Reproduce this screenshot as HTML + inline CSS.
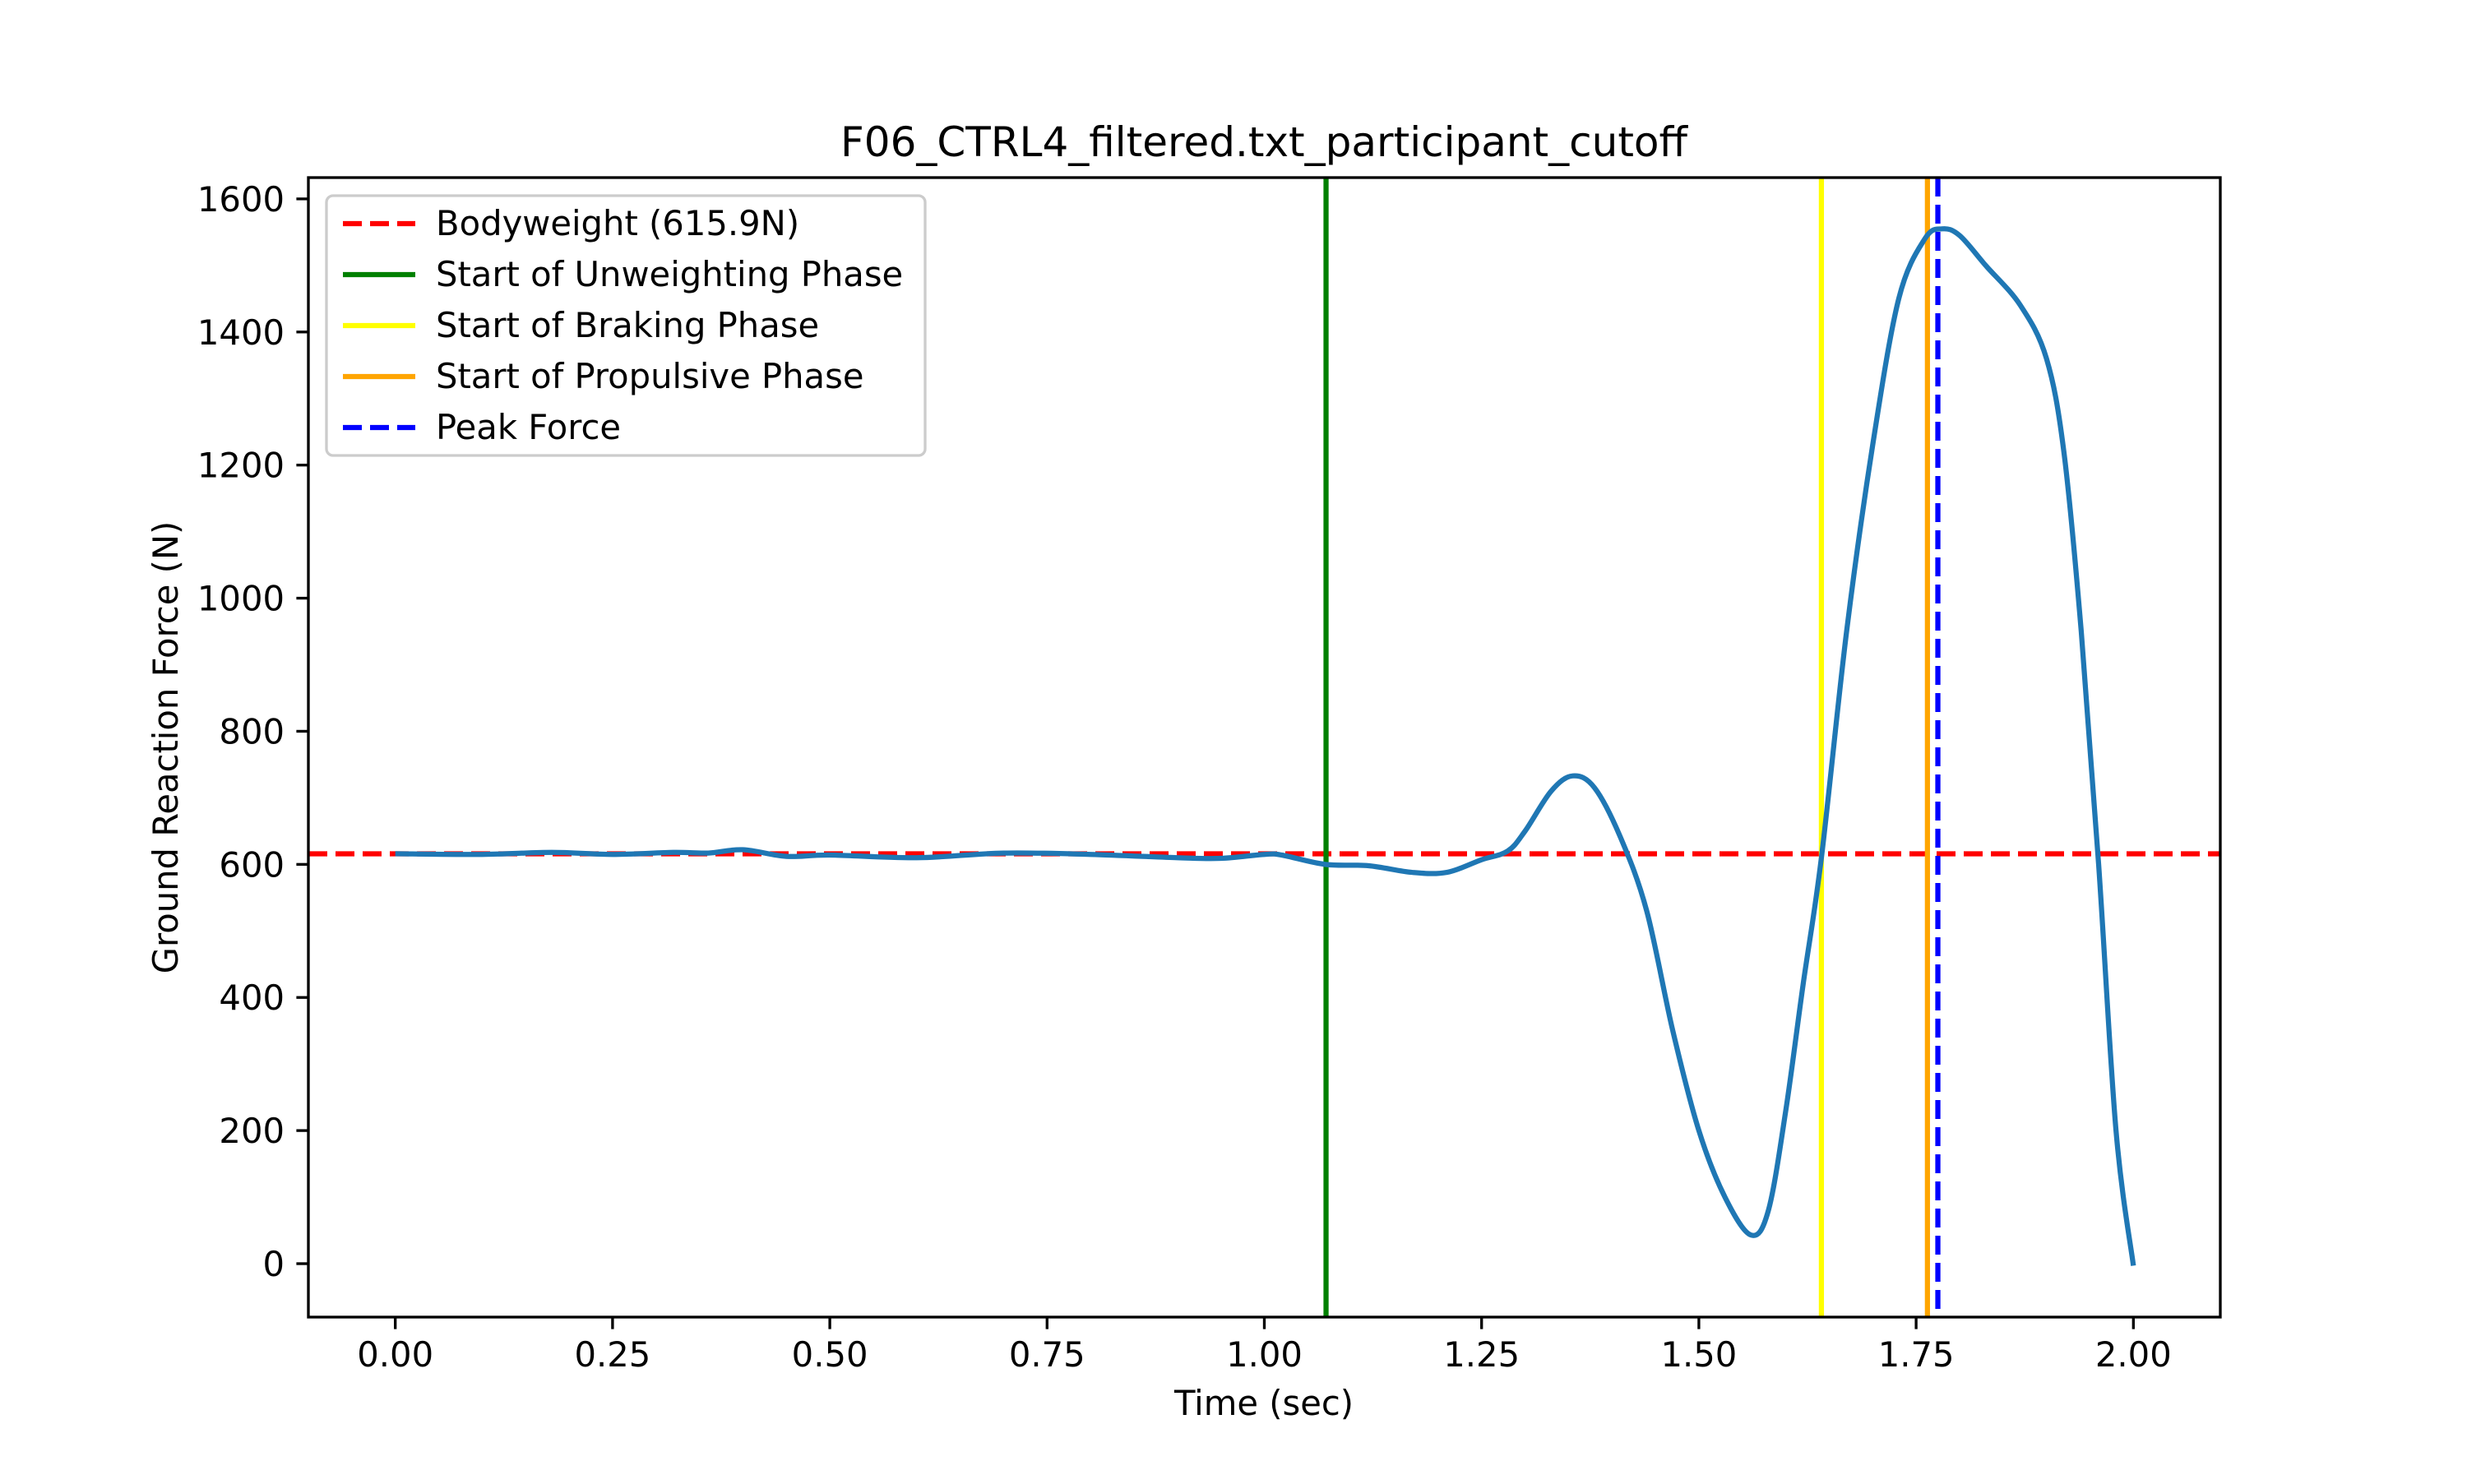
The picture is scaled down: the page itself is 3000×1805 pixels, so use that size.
<!DOCTYPE html>
<html><head><meta charset="utf-8"><style>
body{margin:0;background:#fff}
svg text{font-family:"DejaVu Sans","Liberation Sans",sans-serif;fill:#000}
</style></head><body>
<svg id="chart" width="3000" height="1800" viewBox="0 0 3000 1800" xmlns="http://www.w3.org/2000/svg">
<rect width="3000" height="1800" fill="#fff"/>
<text x="1537" y="190" font-size="50" text-anchor="middle">F06_CTRL4_filtered.txt_participant_cutoff</text>
<g id="plot"></g>
<text x="1537" y="1738" font-size="41.7" text-anchor="middle" dy="-17">Time (sec)</text>
<text x="0" y="0" font-size="41.7" text-anchor="middle" transform="translate(216,909) rotate(-90)">Ground Reaction Force (N)</text>
</svg>
<script>
const times=[0.00,0.10,0.18,0.25,0.32,0.36,0.40,0.45,0.50,0.60,0.70,0.80,0.90,0.95,1.00,1.02,1.07,1.12,1.17,1.21,1.25,1.28,1.30,1.33,1.355,1.38,1.41,1.44,1.47,1.50,1.53,1.56,1.58,1.60,1.62,1.641,1.67,1.70,1.73,1.76,1.78,1.80,1.83,1.87,1.90,1.92,1.94,1.96,1.98,2.00];
const forces=[616,615,618,615,618,617,622,612,614,610,617,615,610,609,615,614,600,598,588,588,607,620,650,710,733,715,640,530,350,200,100,43,80,230,420,610,950,1230,1450,1540,1555,1545,1500,1440,1360,1220,950,600,200,-3];
const bodyweight=615.9;
const phaseTimes=[1.071,1.641,1.763];
const peakTime=1.775;
const xTicks=[0,0.25,0.5,0.75,1.0,1.25,1.5,1.75,2.0];
const xTickLabels=["0.00","0.25","0.50","0.75","1.00","1.25","1.50","1.75","2.00"];
const yTicks=[0,200,400,600,800,1000,1200,1400,1600];
const legendLabels=["Bodyweight (615.9N)","Start of Unweighting Phase","Start of Braking Phase","Start of Propulsive Phase","Peak Force"];

const L=375,R=2700,T=216,B=1602;
const X0=-0.1,X1=2.1,Y0=-80.3,Y1=1632;
const sx=v=>L+(v-X0)/(X1-X0)*(R-L);
const sy=v=>B-(v-Y0)/(Y1-Y0)*(B-T);
const NS="http://www.w3.org/2000/svg";
const g=document.getElementById('plot');
function mk(tag,attrs,parent){const e=document.createElementNS(NS,tag);for(const k in attrs)e.setAttribute(k,attrs[k]);(parent||g).appendChild(e);return e;}

const clip=mk('clipPath',{id:'clip'});mk('rect',{x:L,y:T,width:R-L,height:B-T},clip);

let e=mk('line',{x1:L,x2:R,y1:sy(bodyweight),y2:sy(bodyweight),stroke:'#ff0000','stroke-width':6.25,'stroke-dasharray':'23,10'});


const phaseColors=['#008000','#ffff00','#ffa500'];
const phaseNames=['unweighting-line','braking-line','propulsive-line'];
phaseTimes.forEach((t,i)=>{
  const l=mk('line',{x1:sx(t),x2:sx(t),y1:T,y2:B,stroke:phaseColors[i],'stroke-width':6.25});
  
  
});
e=mk('line',{x1:sx(peakTime),x2:sx(peakTime),y1:T,y2:B,stroke:'#0000ff','stroke-width':6.25,'stroke-dasharray':'23,10'});



const pts=times.map((t,i)=>[sx(t),sy(forces[i])]);
let d='M'+pts[0][0]+','+pts[0][1];
for(let i=0;i<pts.length-1;i++){
  const p0=pts[Math.max(0,i-1)],p1=pts[i],p2=pts[i+1],p3=pts[Math.min(pts.length-1,i+2)];
  const c1=[p1[0]+(p2[0]-p0[0])/6,p1[1]+(p2[1]-p0[1])/6];
  const c2=[p2[0]-(p3[0]-p1[0])/6,p2[1]-(p3[1]-p1[1])/6];
  d+=' C'+c1+' '+c2+' '+p2;
}
e=mk('path',{d:d,fill:'none',stroke:'#1f77b4','stroke-width':6.25,'stroke-linejoin':'round','clip-path':'url(#clip)'});



e=mk('rect',{x:L,y:T,width:R-L,height:B-T,fill:'none',stroke:'#000','stroke-width':3.33});



xTicks.forEach((t,i)=>{
  const tk=mk('line',{x1:sx(t),x2:sx(t),y1:B,y2:B+14.6,stroke:'#000','stroke-width':3.33});
  
  
  const tx=mk('text',{x:sx(t),y:B+60,'font-size':41.7,'text-anchor':'middle'});
  tx.textContent=xTickLabels[i];
  
  
});
yTicks.forEach(v=>{
  const tk=mk('line',{x1:L-14.6,x2:L,y1:sy(v),y2:sy(v),stroke:'#000','stroke-width':3.33});
  
  
  const tx=mk('text',{x:L-29,y:sy(v)+15,'font-size':41.7,'text-anchor':'end'});
  tx.textContent=String(v);
  
  
});

const lg=mk('g',{});


mk('rect',{x:397,y:238,width:728,height:316,rx:8,fill:'#fff','fill-opacity':0.8,stroke:'#cccccc','stroke-width':3.33},lg);
const lc=['#ff0000','#008000','#ffff00','#ffa500','#0000ff'];
const dashed=[true,false,false,false,true];
legendLabels.forEach((s,i)=>{
  const y=272+i*62;
  const h=mk('line',{x1:417,x2:505,y1:y,y2:y,stroke:lc[i],'stroke-width':6.25},lg);
  if(dashed[i])h.setAttribute('stroke-dasharray','23,10');
  
  
  const tx=mk('text',{x:530,y:y+14,'font-size':41.7},lg);
  tx.textContent=s;
  
  
});
</script>
</body></html>
